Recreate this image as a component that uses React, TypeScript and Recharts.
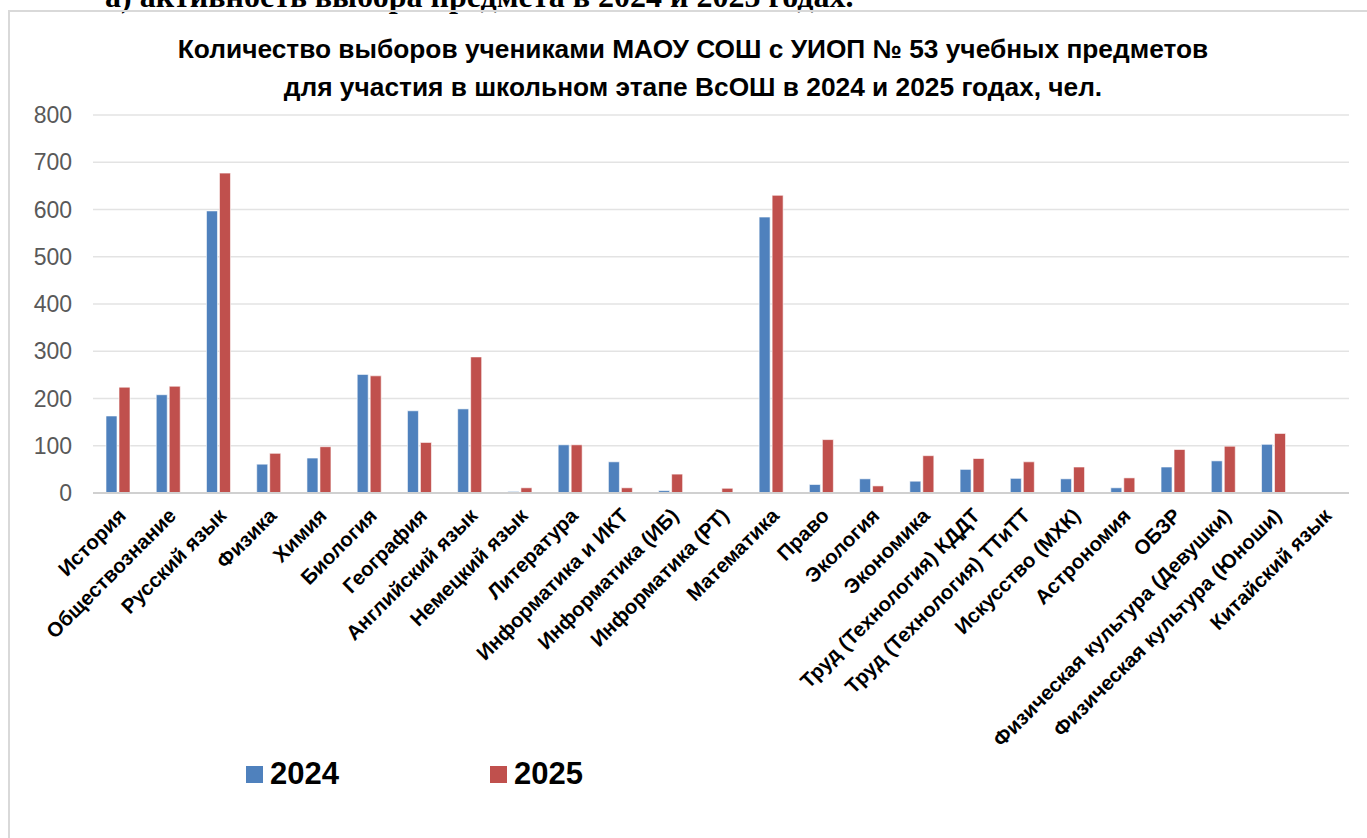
import React from 'react';
import { BarChart, Bar, XAxis, YAxis, CartesianGrid } from 'recharts';

const subjects = [
  'История',
  'Обществознание',
  'Русский язык',
  'Физика',
  'Химия',
  'Биология',
  'География',
  'Английский язык',
  'Немецкий язык',
  'Литература',
  'Информатика и ИКТ',
  'Информатика (ИБ)',
  'Информатика (РТ)',
  'Математика',
  'Право',
  'Экология',
  'Экономика',
  'Труд (Технология) КДДТ',
  'Труд (Технология) ТТиТТ',
  'Искусство (МХК)',
  'Астрономия',
  'ОБЗР',
  'Физическая культура (Девушки)',
  'Физическая культура (Юноши)',
  'Китайский язык',
];

const values2024 = [163, 208, 597, 61, 74, 251, 174, 178, 3, 102, 66, 5, 0, 584, 18, 30, 25, 50, 31, 30, 11, 55, 68, 103, 2];
const values2025 = [224, 226, 677, 84, 98, 248, 107, 288, 11, 102, 11, 40, 10, 630, 113, 15, 79, 73, 66, 55, 32, 92, 99, 126, 0];

const yTicks = [0, 100, 200, 300, 400, 500, 600, 700, 800];

const titleLines = [
  'Количество выборов учениками МАОУ СОШ с УИОП № 53 учебных предметов',
  'для участия в школьном этапе ВсОШ в 2024 и 2025 годах, чел.',
];

const BLUE = '#4f81bd';
const RED = '#c0504d';
const FONT = '"Liberation Sans", Arial, sans-serif';

const data = subjects.map((name, i) => ({
  name,
  y2024: values2024[i],
  y2025: values2025[i],
}));

const SubjectTick = (props: any) => {
  const { x, y, payload } = props;
  return (
    <g transform={`translate(${x + 9},${y + 16}) rotate(-45)`}>
      <text
        x={0}
        y={0}
        textAnchor="end"
        fontFamily={FONT}
        fontWeight="bold"
        fontSize={20.5}
        fill="#000"
      >
        {payload.value}
      </text>
    </g>
  );
};

const App: React.FC = () => {
  return (
    <div style={{ position: 'absolute', left: 0, top: 0, width: 1367, height: 838, overflow: 'hidden', background: '#fff' }}>
      <div
        style={{
          position: 'absolute',
          left: 105,
          top: -22,
          fontFamily: '"Liberation Serif", "Times New Roman", serif',
          fontWeight: 'bold',
          fontSize: 32,
          whiteSpace: 'nowrap',
        }}
      >
        а) активность выбора предмета в 2024 и 2025 годах.
      </div>
      <div
        style={{
          position: 'absolute',
          left: 8,
          top: 10,
          width: 1400,
          height: 900,
          border: '2px solid #d9d9d9',
          boxSizing: 'border-box',
        }}
      />
      <div
        style={{
          position: 'absolute',
          left: 0,
          top: 30,
          width: 1386,
          textAlign: 'center',
          fontFamily: FONT,
          fontWeight: 'bold',
          fontSize: 26.3,
          lineHeight: '38px',
          color: '#000',
        }}
      >
        {titleLines.map((t) => (
          <div key={t}>{t}</div>
        ))}
      </div>
      <div style={{ position: 'absolute', left: 0, top: 0 }}>
        <BarChart
          width={1367}
          height={838}
          data={data}
          margin={{ top: 115, right: 18, bottom: 15, left: 0 }}
          barSize={11}
          barGap={2}
        >
          <CartesianGrid vertical={false} stroke="#e3e3e3" strokeWidth={1.5} />
          <XAxis
            dataKey="name"
            interval={0}
            tick={<SubjectTick />}
            tickLine={false}
            axisLine={{ stroke: '#d0d0d0', strokeWidth: 2 }}
            height={330}
          />
          <YAxis
            domain={[0, 800]}
            ticks={yTicks}
            interval={0}
            width={93}
            tickLine={false}
            axisLine={false}
            tickSize={0}
            tickMargin={21}
            tick={{ fill: '#595959', fontSize: 23, fontFamily: FONT }}
          />
          <Bar dataKey="y2024" fill={BLUE} stroke="#fff" strokeWidth={0.6} isAnimationActive={false} />
          <Bar dataKey="y2025" fill={RED} stroke="#fff" strokeWidth={0.6} isAnimationActive={false} />
        </BarChart>
      </div>
      <div
        style={{
          position: 'absolute',
          top: 756,
          left: 246,
          display: 'flex',
          alignItems: 'center',
          fontFamily: FONT,
          fontWeight: 'bold',
          fontSize: 31,
          color: '#000',
        }}
      >
        <span style={{ width: 17, height: 17, background: BLUE, display: 'inline-block', marginRight: 7 }} />
        <span>2024</span>
        <span style={{ width: 17, height: 17, background: RED, display: 'inline-block', marginLeft: 151, marginRight: 7 }} />
        <span>2025</span>
      </div>
    </div>
  );
};

export default App;
